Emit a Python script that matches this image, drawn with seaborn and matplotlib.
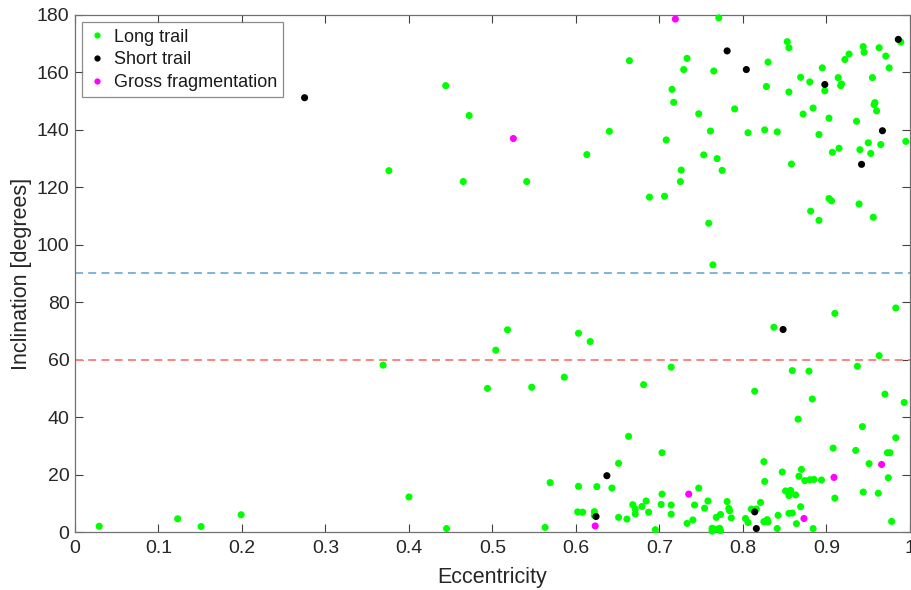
import matplotlib
matplotlib.use("Agg")
import matplotlib.pyplot as plt
import seaborn as sns
import pandas as pd
from matplotlib.lines import Line2D

# Orbital eccentricity / inclination of meteor showers by trail type
long_ecc = [0.444, 0.472, 0.376, 0.465, 0.541, 0.664, 0.640, 0.613, 0.688, 0.771, 0.733, 0.729,
            0.765, 0.830, 0.853, 0.855, 0.895, 0.898, 0.914, 0.918, 0.917, 0.922, 0.927, 0.944,
            0.945, 0.963, 0.971, 0.975, 0.955, 0.989, 0.715, 0.717, 0.747, 0.790, 0.828, 0.855,
            0.869, 0.880, 0.872, 0.884, 0.903, 0.936, 0.958, 0.957, 0.960, 0.995, 0.950, 0.940,
            0.953, 0.965, 0.915, 0.907, 0.891, 0.858, 0.841, 0.826, 0.806, 0.761, 0.708, 0.753,
            0.769, 0.775, 0.726, 0.725, 0.706, 0.903, 0.906, 0.759, 0.764, 0.881, 0.891, 0.939,
            0.956,
            0.910, 0.983, 0.837, 0.714, 0.681, 0.859, 0.879, 0.937, 0.963, 0.814, 0.518, 0.504,
            0.603, 0.617, 0.369, 0.586, 0.547, 0.494, 0.883, 0.970, 0.993, 0.866, 0.943, 0.983,
            0.663, 0.651, 0.703, 0.908, 0.935, 0.973, 0.976, 0.951, 0.974, 0.825, 0.847, 0.870,
            0.867, 0.826, 0.874, 0.880, 0.885, 0.894, 0.910, 0.944, 0.962, 0.978,
            0.400, 0.445, 0.563, 0.569, 0.603, 0.625, 0.643, 0.602, 0.608, 0.622, 0.622, 0.651,
            0.661, 0.668, 0.671, 0.671, 0.679, 0.684, 0.687, 0.851, 0.857, 0.855, 0.863, 0.869,
            0.855, 0.859, 0.864, 0.884, 0.841, 0.842, 0.821, 0.810, 0.816, 0.803, 0.806, 0.825,
            0.829, 0.830, 0.786, 0.781, 0.783, 0.784, 0.773, 0.768, 0.758, 0.754, 0.747, 0.742,
            0.740, 0.733, 0.763, 0.763, 0.767, 0.772, 0.773, 0.695, 0.703, 0.702, 0.714, 0.714,
            0.029, 0.123, 0.151, 0.199]
long_inc = [155.4, 145.0, 125.8, 122.0, 122.0, 164.1, 139.5, 131.4, 116.6, 179.0, 164.9, 161.0,
            160.5, 163.6, 170.7, 168.6, 161.6, 153.6, 158.2, 156.0, 155.4, 164.5, 166.4, 169.0,
            167.0, 168.6, 165.7, 161.6, 158.2, 170.6, 154.1, 149.6, 145.6, 147.3, 155.1, 153.2,
            158.3, 156.7, 145.5, 147.6, 144.1, 143.0, 149.5, 148.8, 146.6, 136.0, 135.5, 133.1,
            131.8, 134.9, 133.6, 132.2, 138.4, 128.1, 139.3, 140.0, 139.0, 139.6, 136.5, 131.3,
            130.0, 125.9, 126.0, 122.0, 116.9, 116.1, 115.3, 107.5, 93.0, 111.7, 108.5, 114.2,
            109.6,
            76.1, 78.0, 71.3, 57.4, 51.3, 56.2, 56.0, 57.7, 61.4, 49.0, 70.4, 63.3,
            69.2, 66.3, 58.1, 53.9, 50.4, 50.0, 46.3, 48.0, 45.1, 39.3, 36.7, 32.8,
            33.3, 23.9, 27.6, 29.2, 28.4, 27.6, 27.6, 23.8, 18.9, 24.5, 20.9, 21.8,
            19.4, 17.6, 17.9, 18.2, 18.3, 18.1, 11.8, 13.9, 13.5, 3.7,
            12.2, 1.2, 1.6, 17.2, 15.9, 15.8, 15.3, 7.0, 6.9, 7.1, 5.7, 5.1,
            4.5, 9.5, 8.0, 6.3, 8.9, 10.8, 6.9, 14.3, 14.5, 12.7, 12.9, 8.8,
            6.5, 6.6, 2.9, 1.2, 1.2, 5.8, 10.3, 8.0, 8.0, 4.7, 3.3, 3.6,
            4.3, 3.5, 4.9, 10.6, 8.2, 7.4, 6.1, 5.1, 10.8, 8.3, 15.3, 9.4,
            4.2, 3.0, 1.3, 0.3, 1.0, 1.3, 0.5, 0.8, 13.2, 9.6, 9.4, 6.2,
            2.0, 4.6, 1.9, 6.0]

short_ecc = [0.275, 0.781, 0.804, 0.898, 0.986, 0.967, 0.942, 0.848, 0.637, 0.624, 0.814, 0.816]
short_inc = [151.2, 167.5, 161.0, 155.8, 171.5, 139.7, 128.0, 70.5, 19.6, 5.4, 7.0, 1.2]

gross_ecc = [0.525, 0.719, 0.623, 0.735, 0.873, 0.909, 0.966]
gross_inc = [137.0, 178.6, 2.1, 13.2, 4.7, 19.0, 23.5]

categories = ["Long trail", "Short trail", "Gross fragmentation"]
colors = ["#00ff00", "#000000", "#ff00ff"]

x_ticks = [0, 0.1, 0.2, 0.3, 0.4, 0.5, 0.6, 0.7, 0.8, 0.9, 1]
x_tick_labels = ["0", "0.1", "0.2", "0.3", "0.4", "0.5", "0.6", "0.7", "0.8", "0.9", "1"]
y_ticks = [0, 20, 40, 60, 80, 100, 120, 140, 160, 180]

df = pd.DataFrame({
    "Eccentricity": long_ecc + short_ecc + gross_ecc,
    "Inclination": long_inc + short_inc + gross_inc,
    "Type": [categories[0]] * len(long_ecc) + [categories[1]] * len(short_ecc)
            + [categories[2]] * len(gross_ecc),
})

sns.set_theme(style="white")
plt.rcParams["font.family"] = ["Liberation Sans", "DejaVu Sans"]

fig = plt.figure(figsize=(9.12, 5.9), dpi=100)
ax = fig.add_axes([0.0822, 0.0983, 0.9156, 0.8763])

# Reference inclinations
dash = (0, (4.1, 2.7))
ax.axhline(90, color="#7db4dc", linestyle=dash, linewidth=1.4, zorder=1)
ax.axhline(60, color="#ff8282", linestyle=dash, linewidth=1.4, zorder=1)

sns.scatterplot(data=df, x="Eccentricity", y="Inclination", hue="Type",
                hue_order=categories, palette=dict(zip(categories, colors)),
                s=26, linewidth=0, edgecolor="none", legend=False,
                clip_on=False, zorder=3, ax=ax)

ax.set_xlim(0, 1)
ax.set_ylim(0, 180)
ax.set_xticks(x_ticks)
ax.set_xticklabels(x_tick_labels)
ax.set_yticks(y_ticks)
ax.set_xlabel("Eccentricity", fontsize=15.5, color="#262626", labelpad=7)
ax.set_ylabel("Inclination [degrees]", fontsize=15.5, color="#262626", labelpad=3)

for side in ["left", "right", "top", "bottom"]:
    ax.spines[side].set_visible(True)
    ax.spines[side].set_color("#707070")
    ax.spines[side].set_linewidth(0.9)
ax.tick_params(axis="both", direction="in", length=6, width=0.8, color="#404040",
               labelsize=14, labelcolor="#262626", top=True, right=True,
               bottom=True, left=True, pad=4)
ax.tick_params(axis="x", pad=6)

handles = [Line2D([0], [0], marker="o", linestyle="none", markersize=4.5,
                  markerfacecolor=c, markeredgecolor="none") for c in colors]
leg = ax.legend(handles, categories, loc="upper left", fontsize=13,
                frameon=True, fancybox=False, edgecolor="#707070",
                borderaxespad=0.4, handlelength=0.9, handletextpad=0.5,
                labelspacing=0.32, borderpad=0.35)
leg.get_frame().set_linewidth(0.9)
for t in leg.get_texts():
    t.set_color("#1a1a1a")

fig.savefig("out.png", dpi=100)
